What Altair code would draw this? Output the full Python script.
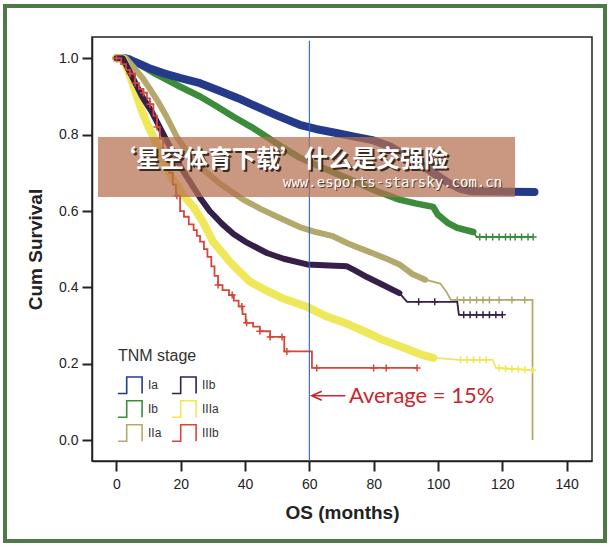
import altair as alt
import numpy as np
import pandas as pd

# ---- Kaplan-Meier estimates by TNM stage: vertices (months, cumulative survival) ----
ia_t = [0, 3, 6, 10, 15, 20, 26, 32, 38, 44, 50, 57, 62, 68, 74, 80, 85, 90, 95, 98.5, 103, 107, 110, 130]
ia_s = [1.0, 1.0, 0.99, 0.975, 0.96, 0.948, 0.935, 0.915, 0.895, 0.872, 0.85, 0.826, 0.815, 0.805, 0.795,
        0.785, 0.77, 0.745, 0.72, 0.70, 0.675, 0.658, 0.652, 0.65]
ia_c = [112, 114, 116, 118, 120, 122, 124, 125.5, 127, 128.5, 130]

ib_t = [0, 4, 8, 12, 15.6, 20, 26, 31, 36.4, 42, 46.8, 52, 57, 65, 72, 80, 88, 93, 98.5, 100, 103, 106,
        111, 112, 129.6]
ib_s = [1.0, 1.0, 0.98, 0.96, 0.944, 0.925, 0.90, 0.875, 0.847, 0.82, 0.794, 0.765, 0.74, 0.71, 0.685,
        0.655, 0.63, 0.62, 0.611, 0.59, 0.569, 0.556, 0.545, 0.532, 0.532]
ib_c = [113, 115, 117, 119, 121, 122.5, 124, 126, 128, 129.6]

iia_t = [0, 3, 5, 8, 10.4, 12.7, 15.6, 18.8, 22, 26, 32, 39.4, 45, 50, 57, 62, 67, 72, 78, 84, 88, 92, 96,
         100.7, 102.5, 104, 129.4, 129.4]
iia_s = [1.0, 1.0, 0.98, 0.95, 0.92, 0.89, 0.847, 0.794, 0.755, 0.716, 0.673, 0.63, 0.605, 0.585, 0.558,
         0.545, 0.535, 0.515, 0.495, 0.475, 0.46, 0.435, 0.42, 0.41, 0.39, 0.367, 0.367, 0.0]
iia_c = [106, 108, 110, 112, 114, 116, 119, 123, 127]

iib_t = [0, 2, 5, 8, 11, 15, 20, 26, 29, 33, 36.4, 40, 46.8, 52, 59.3, 71.7, 74, 77.9, 82, 88, 90.4, 106,
         106.5, 120]
iib_s = [1.0, 1.0, 0.95, 0.9, 0.86, 0.794, 0.715, 0.635, 0.6, 0.565, 0.54, 0.52, 0.49, 0.475, 0.46, 0.455,
         0.445, 0.427, 0.41, 0.385, 0.362, 0.362, 0.328, 0.328]
iib_c = [94, 99, 108, 110, 112, 114, 116, 118, 120]

iiia_t = [0, 2, 4, 6, 8, 10, 11.5, 14, 17, 20.5, 24, 27, 30, 33, 36, 41.5, 47, 52, 59, 65, 71.6, 77, 83,
          90, 95, 98.5, 107, 117, 118, 129.5]
iiia_s = [1.0, 1.0, 0.96, 0.91, 0.86, 0.82, 0.794, 0.745, 0.69, 0.645, 0.61, 0.57, 0.52, 0.49, 0.46,
          0.415, 0.39, 0.37, 0.35, 0.325, 0.305, 0.285, 0.262, 0.24, 0.223, 0.215, 0.21, 0.21, 0.189, 0.183]
iiia_c = [98.5, 107, 109, 111, 113, 115, 119, 121, 123, 125, 127, 129.5]

# stage IIIb is drawn as a true step function (value holds until the next event)
iiib_t = [0, 1.5, 3, 4.2, 5.8, 7, 8.4, 9.5, 10.4, 11.5, 12.6, 13.5, 14.5, 15.5, 16.5, 17.5, 18.5, 19.8,
          21, 22.5, 24, 25, 26, 27.2, 28.3, 29.5, 30.5, 31.6, 33, 35, 36.5, 38, 39.2, 40.2, 42.5, 44.6,
          47.8, 52.2, 60.8, 93.5]
iiib_s = [1.0, 0.985, 0.97, 0.96, 0.935, 0.92, 0.91, 0.895, 0.88, 0.85, 0.82, 0.79, 0.76, 0.73, 0.70,
          0.67, 0.64, 0.60, 0.585, 0.565, 0.55, 0.535, 0.52, 0.50, 0.48, 0.455, 0.43, 0.406, 0.393, 0.38,
          0.365, 0.35, 0.33, 0.307, 0.297, 0.285, 0.27, 0.232, 0.189, 0.189]
iiib_c = [0, 4.2, 5.8, 8.4, 10.4, 12.6, 18.8, 31.6, 36, 39, 40.5, 44.6, 47.8, 51.5, 53, 62.3, 80, 83.9, 93.5]

STAGES = ["Ia", "Ib", "IIa", "IIb", "IIIa", "IIIb"]   # legend fills column by column
COLORS = {"Ia": "#263a8c", "Ib": "#3c8c3c", "IIa": "#b3a96c",
          "IIb": "#36204a", "IIIa": "#eee85a", "IIIb": "#d6473a"}
CURVES = {"Ia": (ia_t, ia_s, ia_c), "Ib": (ib_t, ib_s, ib_c), "IIa": (iia_t, iia_s, iia_c),
          "IIb": (iib_t, iib_s, iib_c), "IIIa": (iiia_t, iiia_s, iiia_c), "IIIb": (iiib_t, iiib_s, iiib_c)}
# heavy censoring makes the early part of a curve look like a thick band
BAND = {"Ia": (130, 8), "Ib": (111, 6.5), "IIa": (100, 6), "IIb": (90, 6), "IIIa": (100, 8)}
STEP = {"IIIb"}
DRAW_ORDER = ["Ib", "Ia", "IIa", "IIIa", "IIb", "IIIb"]

X_TICKS = [0, 20, 40, 60, 80, 100, 120, 140]
Y_TICKS = [0.0, 0.2, 0.4, 0.6, 0.8, 1.0]
MARK_MONTH = 60
NOTE = "Average = 15%"
BANNER_TITLE = "‘星空体育下载’什么是交强险"
BANNER_URL = "www.esports-starsky.com.cn"

STEP_SYMBOL = "M-1.1,0.75H-0.3V-0.75H1.1V0.75"
CROSS = "M-1,0H1M0,-1V1"
ARROW_HEAD = "M1,-0.9L-1,0L1,0.9"
SANS = "Liberation Sans"


def surv_at(t, times, surv, step):
    times = np.asarray(times, float)
    surv = np.asarray(surv, float)
    if step:
        i = np.searchsorted(times, t, side="right") - 1
        return float(surv[max(i, 0)])
    return float(np.interp(t, times, surv))


x_scale = alt.Scale(domain=[-7.6, 147.9], nice=False, zero=False)
y_scale = alt.Scale(domain=[-0.055, 1.056], nice=False, zero=False)
color_scale = alt.Scale(domain=STAGES, range=[COLORS[s] for s in STAGES])

x_axis = alt.Axis(title="OS (months)", values=X_TICKS, format="d", labelPadding=6, titlePadding=12)
y_axis = alt.Axis(title="Cum Survival", values=Y_TICKS, format=".1f", labelPadding=4, titlePadding=13)
legend = alt.Legend(title="TNM stage", orient="none", legendX=26, legendY=311, columns=2,
                    symbolType=STEP_SYMBOL, symbolSize=484, symbolStrokeWidth=1.6,
                    symbolFillColor="transparent",
                    labelFont=SANS, labelFontSize=12, labelColor="#333",
                    labelOffset=6, titleFont=SANS, titleFontSize=16,
                    titleFontWeight="normal", titleColor="#333", titlePadding=9,
                    rowPadding=0, columnPadding=6, padding=0, offset=0)


def enc(chart):
    return chart.encode(
        x=alt.X("month:Q", scale=x_scale, axis=x_axis),
        y=alt.Y("surv:Q", scale=y_scale, axis=y_axis),
        color=alt.Color("stage:N", scale=color_scale, legend=legend),
    )


layers = []
for stage in DRAW_ORDER:
    t, s, c = CURVES[stage]
    step = stage in STEP
    df = pd.DataFrame({"month": t, "surv": s, "stage": stage, "k": range(len(t))})
    interp = "step-after" if step else "linear"
    if stage in BAND:
        until, width = BAND[stage]
        band = df[df["month"] <= until]
        layers.append(enc(alt.Chart(band).mark_line(strokeWidth=width, strokeJoin="round",
                                                    strokeCap="round", interpolate=interp))
                      .encode(order="k:Q"))
    layers.append(enc(alt.Chart(df).mark_line(strokeWidth=1.8, interpolate=interp)).encode(order="k:Q"))
    cens = pd.DataFrame({"month": c, "surv": [surv_at(v, t, s, step) for v in c], "stage": stage})
    layers.append(enc(alt.Chart(cens).mark_point(shape=CROSS, size=49, strokeWidth=1.5, filled=False,
                                                 opacity=1)))

# reference line at 60 months
rule = alt.Chart(pd.DataFrame({"month": [MARK_MONTH], "top": [1.046], "bottom": [-0.055]})).mark_rule(
    color="#2f62c8", strokeWidth=1.1).encode(
    x=alt.X("month:Q", scale=x_scale, axis=x_axis),
    y=alt.Y("top:Q", scale=y_scale, axis=y_axis), y2="bottom:Q")

note = pd.DataFrame({"month": [61.0], "end": [71.2], "surv": [0.116], "head": [62.3], "text_x": [72.3],
                     "label": [NOTE]})
arrow = alt.Chart(note).mark_rule(color="#c8262c", strokeWidth=1.6).encode(
    x=alt.X("month:Q", scale=x_scale, axis=x_axis), x2="end:Q",
    y=alt.Y("surv:Q", scale=y_scale, axis=y_axis))
arrow_head = alt.Chart(note).mark_point(shape=ARROW_HEAD, size=100, filled=False, color="#c8262c",
                                        strokeWidth=1.6, opacity=1).encode(
    x=alt.X("head:Q", scale=x_scale, axis=x_axis), y=alt.Y("surv:Q", scale=y_scale, axis=y_axis))
note_text = alt.Chart(note).mark_text(align="left", baseline="middle", font="Lato", fontSize=22,
                                      color="#c8262c").encode(
    x=alt.X("text_x:Q", scale=x_scale, axis=x_axis), y=alt.Y("surv:Q", scale=y_scale, axis=y_axis),
    text="label:N")

one = pd.DataFrame({"label": [BANNER_TITLE], "url": [BANNER_URL]})
banner = alt.Chart(one).mark_rect(color="#b5704f", opacity=0.72).encode(
    x=alt.value(6), x2=alt.value(423), y=alt.value(100), y2=alt.value(160))
title_shadow = alt.Chart(one).mark_text(align="left", baseline="middle", font="Noto Sans CJK SC",
                                        fontSize=24, fontWeight="bold", color="#3a2a22",
                                        dx=2, dy=2).encode(x=alt.value(20), y=alt.value(123), text="label:N")
title_text = alt.Chart(one).mark_text(align="left", baseline="middle", font="Noto Sans CJK SC",
                                      fontSize=24, fontWeight="bold", color="white").encode(
    x=alt.value(20), y=alt.value(123), text="label:N")
url_shadow = alt.Chart(one).mark_text(align="left", baseline="middle", font="DejaVu Sans Mono",
                                      fontSize=14, color="#5a3a2e", dx=1, dy=1).encode(
    x=alt.value(191), y=alt.value(146), text="url:N")
url_text = alt.Chart(one).mark_text(align="left", baseline="middle", font="DejaVu Sans Mono",
                                    fontSize=14, color="white").encode(
    x=alt.value(191), y=alt.value(146), text="url:N")

frame = alt.Chart(one).mark_rect(filled=False, stroke="#4e7a46", strokeWidth=4).encode(
    x=alt.value(-87), x2=alt.value(513), y=alt.value(-31), y2=alt.value(504))

chart = alt.layer(
    *layers, rule, arrow, arrow_head, note_text, banner, title_shadow, title_text, url_shadow, url_text, frame
).properties(
    width=500, height=424,
    padding={"left": 92, "top": 37, "right": 21, "bottom": 88},
    autosize=alt.AutoSizeParams(type="none"),
    background="white",
).configure_view(
    stroke="#222", strokeWidth=1.5
).configure_axis(
    grid=False, domainColor="#222", domainWidth=1.5, tickColor="#222", tickWidth=2, tickSize=10,
    labelFont=SANS, labelFontSize=14, labelColor="#222",
    titleFont=SANS, titleFontSize=19, titleFontWeight="bold", titleColor="#222",
)

chart.save("out.html", embed_options={"renderer": "svg", "actions": False})
